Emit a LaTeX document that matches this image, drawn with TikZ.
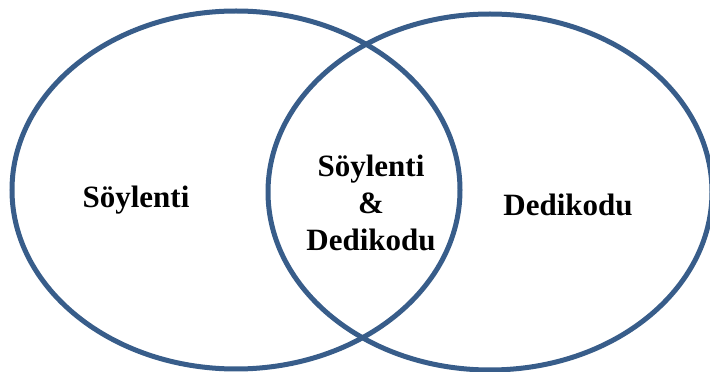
\documentclass[tikz,border=0pt]{standalone}
\usepackage{fontspec}
\setmainfont{Liberation Serif}
\usetikzlibrary{positioning}
\definecolor{ringblue}{RGB}{56,93,138}

\begin{document}
\begin{tikzpicture}[x=1pt, y=1pt,
    setring/.style={draw=ringblue, line width=5pt},
    setlabel/.style={font=\fontsize{31}{37}\selectfont\bfseries, align=center, inner sep=0pt}]
    \useasboundingbox (0,0) rectangle (710,372);
    % the two sets
    \draw[setring] (236,182) ellipse [x radius=224, y radius=179];
    \draw[setring] (490,180) ellipse [x radius=222, y radius=178];
    % labels
    \node[setlabel] (soylenti) at (136,172) {Söylenti};
    \node[setlabel] (both) at (371,169) {Söylenti\\\&\\Dedikodu};
    \node[setlabel] (dedikodu) at (568,167) {Dedikodu};
\end{tikzpicture}
\end{document}
